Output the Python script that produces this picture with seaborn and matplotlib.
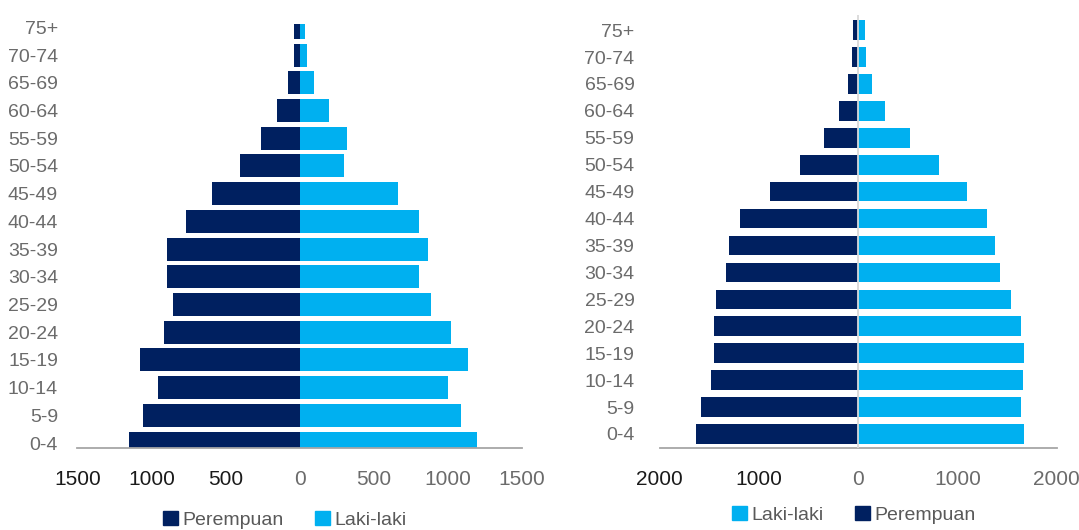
import pandas as pd
import seaborn as sns
import matplotlib.pyplot as plt
from matplotlib.patches import Patch

age_groups = ['75+', '70-74', '65-69', '60-64', '55-59', '50-54', '45-49', '40-44',
              '35-39', '30-34', '25-29', '20-24', '15-19', '10-14', '5-9', '0-4']

# left pyramid
left_perempuan = [40, 40, 79, 153, 264, 403, 591, 768, 893, 893, 855, 916, 1081, 955, 1057, 1155]
left_laki = [35, 46, 97, 197, 322, 297, 663, 802, 863, 802, 886, 1023, 1136, 999, 1088, 1199]
left_ticks = [-1500, -1000, -500, 0, 500, 1000, 1500]

# right pyramid
right_laki = [69, 83, 142, 273, 519, 817, 1097, 1301, 1378, 1433, 1544, 1641, 1675, 1658, 1641, 1675]
right_perempuan = [48, 66, 104, 194, 346, 588, 890, 1187, 1301, 1336, 1433, 1450, 1450, 1485, 1582, 1634]
right_ticks = [-2000, -1000, 0, 1000, 2000]

DARK = '#002060'
LIGHT = '#00B0F0'

sns.set_style('white')
plt.rcParams['font.family'] = ['Liberation Sans Narrow', 'Liberation Sans', 'DejaVu Sans']


def make_df(fem, male):
    a = pd.DataFrame({'age': age_groups, 'val': [-v for v in fem], 'sex': 'Perempuan'})
    b = pd.DataFrame({'age': age_groups, 'val': male, 'sex': 'Laki-laki'})
    return pd.concat([a, b], ignore_index=True)


def style_axis(ax, ticks, ypad, xpad):
    ax.set_xticks(ticks)
    ax.set_xticklabels([str(abs(t)) for t in ticks])
    for lab, t in zip(ax.get_xticklabels(), ticks):
        lab.set_color('#1a1a1a' if t < 0 else '#6b6b6b')
    for lab in ax.get_yticklabels():
        lab.set_color('#6b6b6b')
    ax.tick_params(axis='x', length=0, pad=xpad, labelsize=15)
    ax.tick_params(axis='y', length=0, pad=ypad, labelsize=14)
    for s in ['left', 'top', 'right']:
        ax.spines[s].set_visible(False)
    ax.spines['bottom'].set_color('#a6a6a6')
    ax.spines['bottom'].set_linewidth(1.3)
    ax.set_xlabel('')
    ax.set_ylabel('')


fig = plt.figure(figsize=(10.79, 5.30), dpi=100)
ax1 = fig.add_axes([0.0718, 0.1547, 0.412, 0.80])
ax2 = fig.add_axes([0.6113, 0.1553, 0.368, 0.8164])

df1 = make_df(left_perempuan, left_laki)
sns.barplot(data=df1, x='val', y='age', hue='sex', order=age_groups, dodge=False,
            hue_order=['Perempuan', 'Laki-laki'], palette=[DARK, LIGHT], saturation=1,
            width=0.83, linewidth=0, orient='h', legend=False, ax=ax1)
ax1.set_xlim(-1500, 1500)
ax1.set_ylim(15.18, -0.12)
style_axis(ax1, left_ticks, 14, 16)
ax1.legend(handles=[Patch(color=DARK, label='Perempuan'), Patch(color=LIGHT, label='Laki-laki')],
           loc='center', bbox_to_anchor=(0.467, -0.17), ncol=2, frameon=False,
           handlelength=0.75, handleheight=0.75, handletextpad=0.25, columnspacing=1.6,
           fontsize=14, labelcolor='#595959')

df2 = make_df(right_perempuan, right_laki)
sns.barplot(data=df2, x='val', y='age', hue='sex', order=age_groups, dodge=False,
            hue_order=['Perempuan', 'Laki-laki'], palette=[DARK, LIGHT], saturation=1,
            width=0.73, linewidth=0, orient='h', legend=False, ax=ax2)
ax2.set_xlim(-2000, 2000)
ax2.set_ylim(15.51, -0.56)
ax2.axvline(0, color='#d9d9d9', lw=1.3, zorder=3)
style_axis(ax2, right_ticks, 18, 16)
ax2.legend(handles=[Patch(color=LIGHT, label='Laki-laki'), Patch(color=DARK, label='Perempuan')],
           loc='center', bbox_to_anchor=(0.49, -0.155), ncol=2, frameon=False,
           handlelength=0.75, handleheight=0.75, handletextpad=0.25, columnspacing=1.6,
           fontsize=14, labelcolor='#595959')

plt.savefig('out.png', dpi=100)
